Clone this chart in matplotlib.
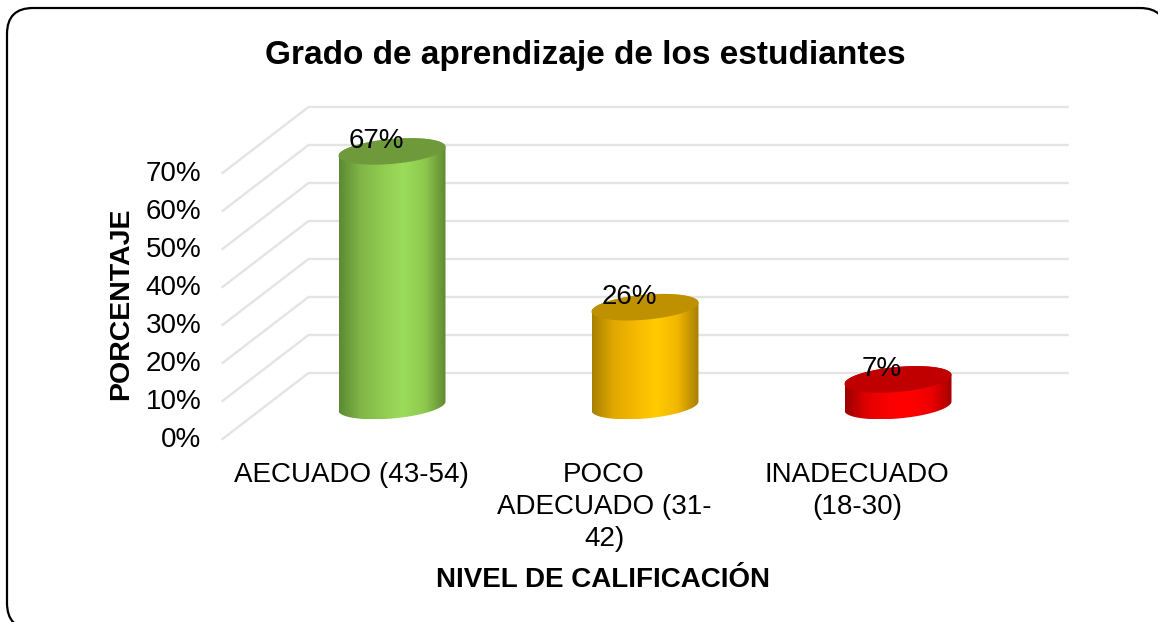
#!/usr/bin/env python3
import numpy as np
import matplotlib
matplotlib.use("Agg")
import matplotlib.pyplot as plt
from matplotlib.colors import LinearSegmentedColormap
from matplotlib.patches import FancyBboxPatch, PathPatch, Polygon
from matplotlib.path import Path
from matplotlib.transforms import IdentityTransform

plt.rcParams["font.family"] = ["Liberation Sans", "DejaVu Sans"]

# ---- data ----
categories = ["AECUADO (43-54)", "POCO\nADECUADO (31-\n42)", "INADECUADO\n(18-30)"]
values = [67, 26, 7]
value_labels = ["67%", "26%", "7%"]
y_ticks = [0, 10, 20, 30, 40, 50, 60, 70]
y_tick_labels = ["0%", "10%", "20%", "30%", "40%", "50%", "60%", "70%"]

# ---- colours: body gradient (left to right) + cap ----
BODY = [
    ["#5c8a30", "#80b548", "#8fcb50", "#9bdc5a", "#8ec94e", "#5f8a32"],
    ["#a88000", "#e0a800", "#f5b800", "#ffcc00", "#f2b600", "#a88000"],
    ["#9a0000", "#e00000", "#fa0000", "#ff0000", "#ee0000", "#a40000"],
]
CAP = ["#6f9a3c", "#bf9000", "#c00000"]
GRID = "#e4e4e4"

W, H = 1158, 622
CAT_PX = 253.0      # pixels per category
PCT_PX = 3.8        # pixels per percent
X0_PX, Y0_PX = 392.0, 406.0   # first category, 0 % on the mid depth plane

# depth of the 3D box, half on each side of the bars
DX = 43 / CAT_PX
DY = 33 / PCT_PX
# cylinder shape
A = 53.5 / CAT_PX
B = 12.5 / PCT_PX
K = 4.5 / PCT_PX


def ellipse(cx, cy, t):
    return cx + A * np.cos(t), cy + B * np.sin(t) + K * np.cos(t)


def draw_cylinder(ax, cx, value, body, cap):
    # outline: lower half of the bottom ellipse, then upper half of the top one
    t1 = np.linspace(0, -np.pi, 60)
    t2 = np.linspace(np.pi, 0, 60)
    xb, yb = ellipse(cx, 0, t1)
    xt, yt = ellipse(cx, value, t2)
    verts = np.r_[np.c_[xb, yb], np.c_[xt, yt]]
    clip = PathPatch(Path(verts), transform=ax.transData, fc="none", ec="none")
    ax.add_patch(clip)

    cmap = LinearSegmentedColormap.from_list("body", body)
    grad = np.linspace(0, 1, 256)[None, :]
    im = ax.imshow(grad, cmap=cmap, aspect="auto", interpolation="bilinear",
                   extent=(cx - A, cx + A, yb.min(), yt.max()), zorder=3)
    im.set_clip_path(clip)

    t = np.linspace(0, 2 * np.pi, 120)
    xc, yc = ellipse(cx, value, t)
    ax.add_patch(Polygon(np.c_[xc, yc], closed=True, fc=cap, ec="none", zorder=4))


fig = plt.figure(figsize=(W / 100, H / 100), dpi=100)
fig.patch.set_facecolor("white")
ax = fig.add_axes([0, 0, 1, 1])
ax.axis("off")

n = len(categories)
# gridlines: front edge -> back wall -> across
for v in y_ticks:
    ax.plot([-0.5 - DX, -0.5 + DX, n - 0.5 + DX],
            [v - DY, v + DY, v + DY],
            color=GRID, lw=1.7, solid_joinstyle="miter", zorder=1)

for i, v in enumerate(values):
    draw_cylinder(ax, i, v, BODY[i], CAP[i])
    ax.annotate(value_labels[i], xy=(i, v), xytext=(-16, 13),
                textcoords="offset pixels", ha="center", va="center_baseline",
                fontsize=20, color="black", zorder=5)

for v, lab in zip(y_ticks, y_tick_labels):
    ax.annotate(lab, xy=(-0.5 - DX, v - DY), xytext=(-21, 2),
                textcoords="offset pixels", ha="right", va="center_baseline",
                fontsize=20, color="black")

for i, lab in enumerate(categories):
    ax.annotate(lab, xy=(i - DX, -DY), xytext=(2, -23),
                textcoords="offset pixels", ha="center", va="top",
                fontsize=20, color="black", linespacing=1.3)

# full figure axes, limits worked out from the pixel scale
ax.set_xlim(-X0_PX / CAT_PX, (W - X0_PX) / CAT_PX)
ax.set_ylim((Y0_PX - H) / PCT_PX, Y0_PX / PCT_PX)

fig.text(585 / W, 1 - 52 / H, "Grado de aprendizaje de los estudiantes",
         ha="center", va="center_baseline", fontsize=24, fontweight="bold")
fig.text(121 / W, 1 - 304 / H, "PORCENTAJE", rotation=90,
         ha="center", va="center", fontsize=20.5, fontweight="bold")
fig.text(603 / W, 1 - 577 / H, "NIVEL DE CALIFICACIÓN",
         ha="center", va="center_baseline", fontsize=20, fontweight="bold")

# rounded frame, runs off the right and bottom edges
# (flattened first: agg clips curves badly at the canvas edge)
box = FancyBboxPatch((7, H - 629), 1159, 621,
                     boxstyle="round,pad=0,rounding_size=26")
frame_pts = box.get_path().to_polygons(closed_only=False)[0]
fig.add_artist(Polygon(frame_pts, closed=True, transform=IdentityTransform(),
                       fc="none", ec="black", lw=1.6))

fig.savefig("out.png", dpi=100)
